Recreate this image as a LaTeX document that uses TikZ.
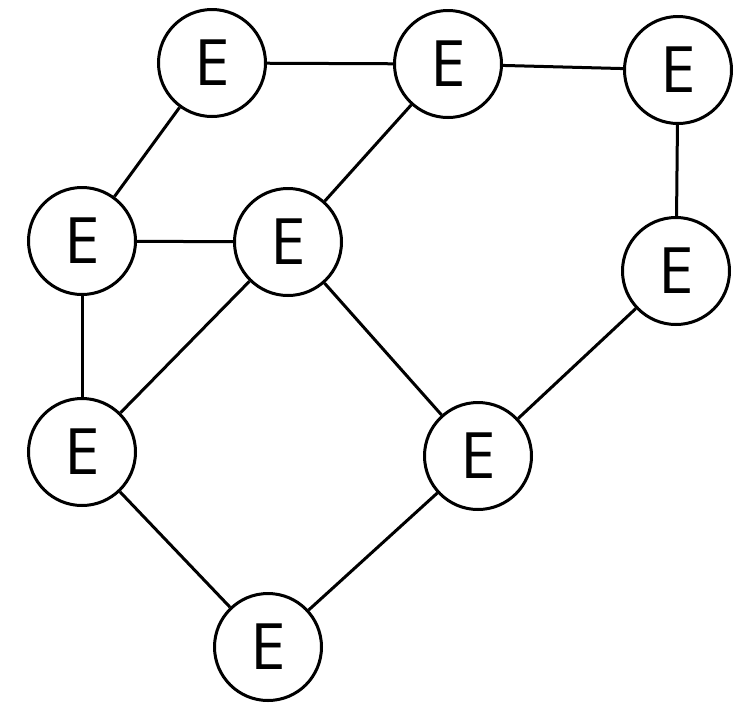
\documentclass[tikz,border=0pt]{standalone}
\usepackage{fontspec}
\setsansfont{Open Sans}
\begin{document}
\begin{tikzpicture}[x=1pt,y=-1pt,
  enode/.style={circle,draw,line width=3pt,minimum size=107pt,inner sep=0pt,
    font=\sffamily\fontsize{64}{70}\selectfont},
  edge/.style={line width=3pt}]
\useasboundingbox (0,0) rectangle (750,724);
\node[enode] (n1) at (212,63) {E};
\node[enode] (n2) at (448,64) {E};
\node[enode] (n3) at (678,70) {E};
\node[enode] (n4) at (82,241) {E};
\node[enode] (n5) at (288,242) {E};
\node[enode] (n6) at (676,271) {E};
\node[enode] (n7) at (82,452) {E};
\node[enode] (n8) at (478,456) {E};
\node[enode] (n9) at (268,647) {E};
\draw[edge] (n1) -- (n2);
\draw[edge] (n2) -- (n3);
\draw[edge] (n1) -- (n4);
\draw[edge] (n2) -- (n5);
\draw[edge] (n3) -- (n6);
\draw[edge] (n4) -- (n5);
\draw[edge] (n4) -- (n7);
\draw[edge] (n5) -- (n7);
\draw[edge] (n5) -- (n8);
\draw[edge] (n6) -- (n8);
\draw[edge] (n7) -- (n9);
\draw[edge] (n8) -- (n9);
\end{tikzpicture}
\end{document}
